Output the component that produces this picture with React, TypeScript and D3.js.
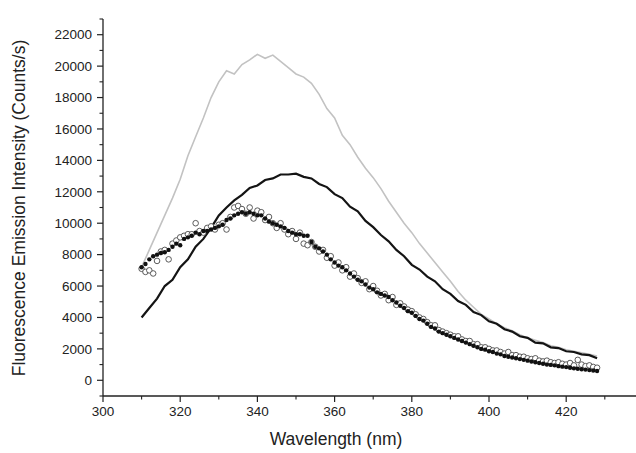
import React from "react";
import * as d3 from "d3";

const W = 636;
const H = 453;

// Wavelength grids
const lineStart = 310;
const lineStep = 2;
const markStart = 310;
const markStep = 1;

// Gray line (2 nm steps, 310..428)
const grayValues = [
  7200, 8300, 9400, 10500, 11600, 12800, 14300, 15500, 16700, 18000,
  19000, 19700, 19500, 20100, 20400, 20750, 20500, 20700, 20300, 19900,
  19500, 19300, 18900, 18200, 17300, 16700, 15600, 15000, 14200, 13500,
  12900, 12200, 11400, 10700, 10000, 9400, 8700, 8100, 7500, 6900,
  6300, 5650, 5100, 4650, 4200, 3900, 3600, 3350, 3150, 2900,
  2700, 2550, 2400, 2200, 2100, 1950, 1850, 1750, 1650, 1550,
];

// Black line (2 nm steps, 310..428)
const blackValues = [
  4000, 4600, 5200, 6000, 6400, 7200, 7700, 8500, 9000, 9700,
  10500, 11000, 11450, 11800, 12250, 12400, 12750, 12850, 13100, 13100,
  13150, 12950, 12850, 12500, 12300, 11850, 11600, 11050, 10750, 10150,
  9750, 9250, 8850, 8300, 7900, 7350, 7050, 6600, 6300, 5800,
  5500, 5050, 4800, 4350, 4150, 3750, 3600, 3250, 3100, 2800,
  2700, 2400, 2350, 2100, 2050, 1850, 1800, 1650, 1600, 1400,
];

// Filled markers (1 nm steps, 310..428)
const filledValues = [
  7200, 7400, 7700, 7900, 8000, 8100, 8150, 8300, 8500, 8700,
  8600, 9000, 9100, 9200, 9400, 9300, 9500, 9500, 9600, 9700,
  9800, 9900, 10200, 10300, 10500, 10600, 10700, 10600, 10700, 10600,
  10500, 10500, 10300, 10100, 10000, 9900, 9800, 9700, 9500, 9400,
  9300, 9300, 9200, 9200, 8800, 8500, 8400, 8200, 8000, 7700,
  7500, 7300, 7200, 7000, 6800, 6600, 6400, 6300, 6100, 5900,
  5800, 5600, 5500, 5400, 5300, 5100, 4950, 4750, 4600, 4400,
  4300, 4100, 3900, 3800, 3600, 3400, 3300, 3100, 3000, 2900,
  2800, 2700, 2600, 2500, 2400, 2300, 2200, 2100, 2000, 1950,
  1850, 1800, 1700, 1650, 1550, 1500, 1450, 1400, 1350, 1300,
  1250, 1200, 1150, 1100, 1050, 1000, 980, 950, 900, 870,
  840, 800, 760, 730, 700, 680, 650, 620, 590,
];

// Open markers (1 nm steps, 310..428)
const openValues = [
  7100, 6900, 7000, 6800, 7600, 8200, 8300, 7700, 8700, 8900,
  9100, 9200, 9300, 9300, 10000, 9500, 9400, 9700, 9800, 9600,
  9900, 10000, 9600, 10400, 11000, 11100, 10900, 10600, 11000, 10300,
  10800, 10700, 10200, 10400, 10000, 9700, 10000, 9600, 9300, 9500,
  9000, 9400, 8700, 8600, 8800, 8500, 8200, 8300, 7800, 7900,
  7300, 7500, 7000, 7200, 6600, 6800, 6500, 6200, 6300, 5800,
  6000, 5700, 5400, 5500, 5100, 5300, 4800, 4900, 4700, 4500,
  4400, 4200, 4000, 3900, 3700, 3500, 3500, 3200, 3100, 3000,
  2900, 2800, 2800, 2600, 2500, 2500, 2300, 2300, 2100, 2100,
  2000, 1900, 1900, 1800, 1700, 1800, 1600, 1600, 1500, 1500,
  1400, 1350, 1400, 1250, 1200, 1250, 1150, 1100, 1150, 1050,
  1000, 1100, 950, 1300, 1000, 900, 950, 850, 800,
];

const xMajorTicks = [300, 320, 340, 360, 380, 400, 420];
const xMinorTicks = [310, 330, 350, 370, 390, 410, 430];
const yMajorTicks = [0, 2000, 4000, 6000, 8000, 10000, 12000, 14000, 16000, 18000, 20000, 22000];
const yMinorTicks = [-1000, 1000, 3000, 5000, 7000, 9000, 11000, 13000, 15000, 17000, 19000, 21000, 23000];

const xTitle = "Wavelength (nm)";
const yTitle = "Fluorescence Emission Intensity (Counts/s)";

export default function App() {
  const left = 103;
  const bottom = 396;
  const top = 19;
  const x = d3.scaleLinear().domain([300, 440]).range([left, left + 140 * 3.86]);
  const y = d3.scaleLinear().domain([-1000, 23000]).range([bottom, top]);

  const toPts = (vals: number[], start: number, step: number) =>
    vals.map((v, i) => [start + i * step, v] as [number, number]);

  const line = d3
    .line<[number, number]>()
    .x((d) => x(d[0]))
    .y((d) => y(d[1]));

  const gray = toPts(grayValues, lineStart, lineStep);
  const black = toPts(blackValues, lineStart, lineStep);
  const filled = toPts(filledValues, markStart, markStep);
  const open = toPts(openValues, markStart, markStep);

  const font = "'Liberation Sans', Arial, Helvetica, sans-serif";
  const axisColor = "#222";

  return (
    <svg
      width={W}
      height={H}
      style={{ position: "absolute", left: 0, top: 0, background: "#fff" }}
      fontFamily={font}
    >
      <rect x={0} y={0} width={W} height={H} fill="#fff" />
      {/* axes */}
      <line x1={left} x2={left} y1={bottom} y2={top} stroke={axisColor} strokeWidth={1.3} />
      <line x1={left} x2={W} y1={bottom} y2={bottom} stroke={axisColor} strokeWidth={1.3} />
      {yMajorTicks.map((t) => (
        <g key={"ym" + t}>
          <line x1={left - 6} x2={left} y1={y(t)} y2={y(t)} stroke={axisColor} strokeWidth={1.2} />
          <text x={left - 11} y={y(t)} dy="0.35em" textAnchor="end" fontSize={13.5} fill="#222">
            {t}
          </text>
        </g>
      ))}
      {yMinorTicks.map((t) => (
        <line key={"yn" + t} x1={left - 3.5} x2={left} y1={y(t)} y2={y(t)} stroke={axisColor} strokeWidth={1.1} />
      ))}
      {xMajorTicks.map((t) => (
        <g key={"xm" + t}>
          <line x1={x(t)} x2={x(t)} y1={bottom} y2={bottom + 6} stroke={axisColor} strokeWidth={1.2} />
          <text x={x(t)} y={bottom + 20} textAnchor="middle" fontSize={13.5} fill="#222">
            {t}
          </text>
        </g>
      ))}
      {xMinorTicks.map((t) => (
        <line key={"xn" + t} x1={x(t)} x2={x(t)} y1={bottom} y2={bottom + 3.5} stroke={axisColor} strokeWidth={1.1} />
      ))}
      <text x={336} y={445} textAnchor="middle" fontSize={17.5} fill="#222">
        {xTitle}
      </text>
      <text
        transform={`translate(25, 208) rotate(-90)`}
        textAnchor="middle"
        fontSize={17.5}
        fill="#222"
      >
        {yTitle}
      </text>

      {/* series */}
      <path d={line(gray) || ""} fill="none" stroke="#c2c2c2" strokeWidth={1.6} />
      <path d={line(black) || ""} fill="none" stroke="#141414" strokeWidth={2.2} />
      {open.map((d, i) => (
        <circle key={"o" + i} cx={x(d[0])} cy={y(d[1])} r={2.8} fill="#fff" stroke="#4a4a4a" strokeWidth={0.9} />
      ))}
      {filled.map((d, i) => (
        <circle key={"f" + i} cx={x(d[0])} cy={y(d[1])} r={2.2} fill="#111" />
      ))}
    </svg>
  );
}
